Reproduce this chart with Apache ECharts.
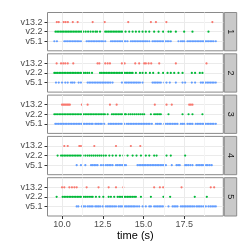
<!DOCTYPE html>
<html><head><meta charset="utf-8">
<script src="https://cdn.jsdelivr.net/npm/echarts@6/dist/echarts.min.js"></script>
<style>html,body{margin:0;padding:0;background:#fff}#c{width:249px;height:249px}</style>
</head><body><div id="c"></div>
<script>
// Categories
const versions = ['v5.1', 'v2.2', 'v13.2'];   // bottom to top
const panelLabels = ['1', '2', '3', '4', '5'];
const xTicks = [10, 12.5, 15, 17.5];
const xMinor = [11.25, 13.75, 16.25, 18.75];
const xTitle = 'time (s)';

// Panel 1
const p1_v13 = [9.68, 9.8, 10.1, 10.22, 10.36, 10.66, 10.96, 11.88, 12.62, 14.06, 15.45, 15.76, 16.4, 19.22];
const p1_v2 = [9.6,9.7,9.8,9.9,10.0,10.1,10.2,10.3,10.4,10.5,10.6,10.7,10.8,10.9,11.0,11.1,11.2,11.3,11.45,11.6,11.75,11.9,12.05,12.15,12.33,12.65,12.75,12.85,12.95,13.05,13.15,13.25,13.35,13.45,13.55,13.65,13.75,13.9,14.12,14.33,14.53,14.73,14.94,15.14,15.35,15.65,15.92,16.2,16.53,16.67,16.98,17.49,18.0,18.98];
const p1_v5 = [9.53,9.69,10.14,10.24,10.34,10.44,10.54,10.64,10.74,10.84,10.94,11.04,11.16,11.51,11.61,11.71,11.81,11.91,12.01,12.11,12.21,12.31,12.41,12.51,12.65,13.0,13.1,13.2,13.3,13.4,13.5,13.6,13.7,13.8,13.9,14.02,14.22,14.32,14.42,14.52,14.62,14.72,14.82,14.92,15.02,15.12,15.22,15.35,15.55,15.65,15.75,15.85,15.95,16.05,16.15,16.25,16.35,16.45,16.55,16.67,17.14,17.29,17.39,17.49,17.69,17.79,17.89,17.99,18.09,18.19,18.29,18.39,18.49,18.59,18.69,18.79,18.89,18.99,19.09,19.19,19.29,19.43];

// Panel 2
const p2_v13 = [9.67, 9.94, 10.08, 10.2, 10.35, 10.69, 12.18, 12.29, 12.65, 12.8, 12.94, 13.67, 13.84, 14.49, 14.73, 15.04, 15.14, 15.31, 15.47, 15.96, 16.98, 18.86];
const p2_v2 = [9.53,9.63,9.73,9.83,9.93,10.03,10.13,10.23,10.33,10.43,10.53,10.63,10.73,10.83,10.93,11.03,11.13,11.23,11.33,11.43,11.55,11.67,11.84,12.33,12.43,12.53,12.63,12.73,12.83,12.93,13.03,13.13,13.23,13.33,13.43,13.53,13.63,13.73,13.83,13.93,14.03,14.13,14.23,14.33,14.53,14.78,14.94,15.14,15.39,15.59,15.92,16.2,16.47,16.67,16.88,17.14,17.39,17.96,18.16,18.45,18.61];
const p2_v5 = [9.63,9.8,10.0,10.2,10.35,10.55,10.65,10.76,11.02,11.16,11.57,11.67,11.77,11.87,11.97,12.07,12.17,12.27,12.37,12.47,12.57,12.67,12.77,12.87,12.97,13.1,13.67,13.77,13.87,13.97,14.07,14.17,14.27,14.37,14.47,14.57,14.67,14.78,14.94,15.55,15.65,15.75,15.85,15.95,16.06,16.27,16.41,16.61,16.98,17.39,17.55,17.96,18.16,18.51,18.61,18.71,18.81,18.91,19.01,19.11,19.21,19.31,19.43];

// Panel 3
const p3_v13 = [10.0, 10.08, 10.16, 10.24, 10.32, 10.4, 10.48, 11.22, 11.57, 12.94, 13.35, 15.69, 16.41, 16.73, 17.8, 17.9, 18.0];
const p3_v2 = [9.53,9.63,9.73,9.83,9.93,10.03,10.13,10.23,10.33,10.43,10.53,10.63,10.73,10.83,10.93,11.03,11.13,11.23,11.33,11.43,11.53,11.63,11.73,11.83,11.93,12.03,12.13,12.23,12.33,12.43,12.53,12.63,12.8,13.06,13.16,13.26,13.36,13.46,13.56,13.66,13.76,13.86,13.92,14.08,14.2,14.32,14.44,14.56,14.68,14.8,14.92,15.04,15.45,15.65,15.76,15.86,15.96,16.06,16.53,17.39,17.76,18.0,18.61];
const p3_v5 = [9.59,9.69,9.79,9.89,9.99,10.09,10.19,10.29,10.39,10.49,10.59,10.69,10.79,10.89,10.99,11.09,11.19,11.29,11.39,11.49,11.59,11.69,11.79,11.88,12.04,12.14,12.24,12.34,12.44,12.59,12.86,12.96,13.06,13.16,13.26,13.36,13.46,13.56,13.66,13.82,13.98,14.08,14.18,14.28,14.38,14.48,14.58,14.68,14.78,14.88,14.98,15.08,15.18,15.28,15.38,15.51,15.76,15.86,15.96,16.06,16.27,16.37,16.47,16.57,16.67,16.78,16.88,16.98,17.08,17.29,17.39,17.49,17.69,17.8,17.9,18.0,18.2,18.3,18.4,18.5,18.6,18.7,18.8,18.9,19.0,19.1,19.2,19.3,19.43];

// Panel 4
const p4_v13 = [10.14, 10.35, 11.06, 11.16, 11.98, 13.31, 14.22, 14.8];
const p4_v2 = [9.73,9.94,10.04,10.14,10.24,10.34,10.44,10.54,10.64,10.74,10.84,10.94,11.04,11.14,11.27,11.43,11.57,11.69,11.81,11.93,12.05,12.17,12.29,12.41,12.55,12.69,12.9,13.1,13.31,13.55,13.76,14.02,14.33,14.57,14.84,15.14,15.35,15.65,15.8,16.41,16.67,17.55];
const p4_v5 = [10.9,11.16,11.43,11.78,11.88,11.98,12.08,12.18,12.39,12.53,12.69,12.79,12.89,12.99,13.1,13.31,13.41,13.51,13.61,13.71,13.81,13.92,14.63,14.73,14.83,14.93,15.03,15.13,15.23,15.33,15.43,15.53,15.63,15.73,15.83,15.93,16.03,16.13,16.23,16.37,16.73,17.02,17.12,17.22,17.55,17.65,17.75,17.87,18.0,18.24,18.34,18.44,18.54,18.64,18.74,18.84,18.94,19.06,19.18];

// Panel 5
const p5_v13 = [10.0, 10.14, 10.45, 10.61, 10.76, 10.9, 11.51, 12.24, 12.86, 13.31, 13.76, 15.65, 16.0, 16.2, 17.33, 19.12, 19.33];
const p5_v2 = [9.67,10.04,10.14,10.24,10.34,10.44,10.54,10.64,10.74,10.84,10.94,11.04,11.14,11.24,11.34,11.44,11.54,11.66,11.78,11.88,12.08,12.29,12.53,12.86,13.0,13.2,13.41,13.51,13.61,13.71,13.81,13.91,14.01,14.11,14.21,14.31,14.42,14.53,14.84,15.45,16.22,16.63,18.14,18.88];
const p5_v5 = [10.9,11.0,11.22,11.32,11.42,11.57,11.67,11.78,11.88,12.04,12.14,12.24,12.34,12.49,12.69,12.79,12.89,12.99,13.09,13.2,13.31,13.47,13.57,13.67,13.77,13.87,13.97,14.07,14.17,14.27,14.37,14.47,14.6,14.73,14.94,15.14,15.35,15.45,15.65,15.76,15.86,15.96,16.06,16.16,16.27,16.53,16.78,16.88,16.98,17.08,17.29,17.39,17.49,17.59,17.69,17.79,17.89,17.99,18.1,18.24,18.34,18.44,18.54,18.66,18.82,18.98,19.1,19.21,19.32,19.43];

const panelData = [
  [p1_v5, p1_v2, p1_v13],
  [p2_v5, p2_v2, p2_v13],
  [p3_v5, p3_v2, p3_v13],
  [p4_v5, p4_v2, p4_v13],
  [p5_v5, p5_v2, p5_v13]
];
const colors = ['#619CFF', '#00BA38', '#F8766D'];

const FONT = 'Liberation Sans, Arial, sans-serif';
const L = 47.5, R = 223.3, T0 = 12.5, PITCH = 41.3, H = 38.3;
const XMIN = 9.11, XMAX = 19.89;

const grids = [], xAxes = [], yAxes = [], series = [], graphics = [];
panelData.forEach((rows, i) => {
  const top = T0 + i * PITCH;
  const last = i === panelData.length - 1;
  grids.push({left: L, top: top, width: R - L, height: H, show: true,
    borderColor: '#8A8A8A', borderWidth: 1, backgroundColor: '#fff'});
  xAxes.push({type: 'value', gridIndex: i, min: XMIN, max: XMAX,
    axisLine: {show: false},
    axisTick: {show: last, customValues: xTicks, length: 3, lineStyle: {color: '#333'}},
    axisLabel: {show: last, customValues: xTicks, formatter: v => v.toFixed(1),
      fontSize: 9, color: '#4D4D4D', margin: 4, fontFamily: FONT},
    splitLine: {show: true, lineStyle: {color: '#EBEBEB', width: 1}},
    name: last ? xTitle : '', nameLocation: 'middle', nameGap: 14,
    nameTextStyle: {fontSize: 11, color: '#000', fontFamily: FONT}
  });
  yAxes.push({type: 'value', gridIndex: i, min: 0, max: 4,
    axisLine: {show: false},
    axisTick: {show: true, customValues: [1, 2, 3], length: 3, lineStyle: {color: '#333'}},
    axisLabel: {customValues: [1, 2, 3], formatter: v => versions[v - 1] || '',
      fontSize: 9, color: '#4D4D4D', margin: 5, fontFamily: FONT},
    splitLine: {show: true, lineStyle: {color: '#EBEBEB', width: 1}}
  });
  series.push({type: 'scatter', xAxisIndex: i, yAxisIndex: i, data: [], z: 1, silent: true,
    markLine: {silent: true, symbol: 'none', label: {show: false},
      lineStyle: {color: '#F4F4F4', width: 1, type: 'solid'},
      data: xMinor.map(v => ({xAxis: v}))}});
  rows.forEach((vals, k) => {
    series.push({type: 'scatter', xAxisIndex: i, yAxisIndex: i, symbol: 'circle', symbolSize: 2.2,
      itemStyle: {color: colors[k], opacity: 1}, z: 3, silent: true,
      data: vals.map(v => [v, k + 1])});
  });
  graphics.push({type: 'rect', shape: {x: 224.3, y: top, width: 12.4, height: H},
    style: {fill: '#C9C9C9', stroke: '#8A8A8A', lineWidth: 1}});
  graphics.push({type: 'text', x: 230.5, y: top + H / 2, rotation: -Math.PI / 2,
    style: {text: panelLabels[i], fontSize: 9, fill: '#1A1A1A', fontFamily: FONT,
      textAlign: 'center', textVerticalAlign: 'middle'}});
});

const chart = echarts.init(document.getElementById('c'), null, {renderer: 'canvas'});
chart.setOption({
  animation: false,
  backgroundColor: '#fff',
  grid: grids, xAxis: xAxes, yAxis: yAxes, series: series, graphic: graphics
});
</script></body></html>
